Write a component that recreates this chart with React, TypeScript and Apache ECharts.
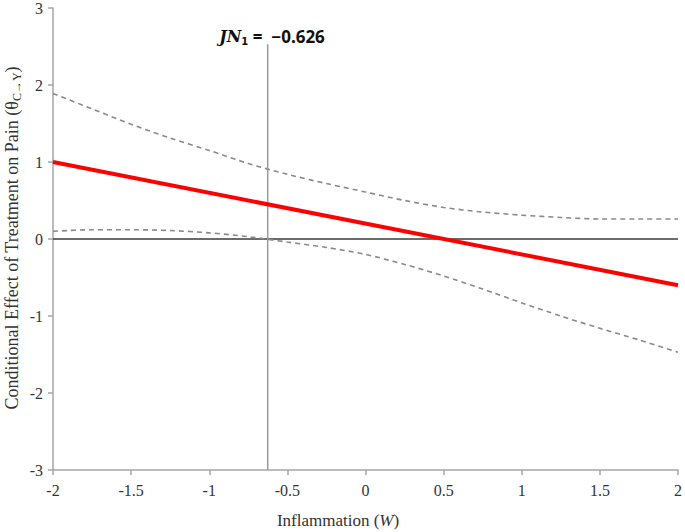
import React, { useEffect, useRef } from "react";
import * as echarts from "echarts";

// Moderator values (Inflammation, W)
const wValues = [-2, -1.75, -1.5, -1.25, -1, -0.75, -0.5, -0.25, 0, 0.25, 0.5, 0.75, 1, 1.25, 1.5, 1.75, 2];
// Upper and lower confidence bounds
const upperCI = [1.89, 1.69, 1.49, 1.31, 1.15, 0.98, 0.84, 0.72, 0.61, 0.5, 0.41, 0.35, 0.31, 0.28, 0.26, 0.26, 0.26];
const lowerCI = [0.1, 0.12, 0.12, 0.11, 0.08, 0.03, -0.04, -0.11, -0.2, -0.33, -0.48, -0.65, -0.83, -1.0, -1.16, -1.31, -1.47];
// Conditional effect line
const effectW = [-2, 2];
const effectValues = [1.0, -0.6];
// Johnson-Neyman point
const jnValue = -0.626;
const jnLineTop = 2.53;
const jnLineBottom = -3;
const zeroLineW = [-2, 2];

const serif = "'Liberation Serif', 'Times New Roman', serif";

export default function App() {
  const ref = useRef<HTMLDivElement>(null);

  useEffect(() => {
    document.body.style.margin = "0";
    if (!ref.current) return;
    const chart = echarts.init(ref.current, undefined, { renderer: "svg" });
    const gray = "#a6a6a6";
    chart.setOption({
      animation: false,
      backgroundColor: "#ffffff",
      grid: { left: 53, right: 4, top: 7, bottom: 62 },
      xAxis: {
        type: "value",
        min: -2,
        max: 2,
        interval: 0.5,
        axisLine: { onZero: false, lineStyle: { color: gray, width: 1.5 } },
        axisTick: { show: true, length: 5, lineStyle: { color: gray, width: 1.5 } },
        axisLabel: {
          color: "#333333",
          fontFamily: serif,
          fontSize: 16,
          margin: 12,
          formatter: (v: number) => String(v),
        },
        splitLine: { show: false },
      },
      yAxis: {
        type: "value",
        min: -3,
        max: 3,
        interval: 1,
        axisLine: { show: true, onZero: false, lineStyle: { color: gray, width: 1.5 } },
        axisTick: { show: true, length: 5, lineStyle: { color: gray, width: 1.5 } },
        axisLabel: {
          color: "#333333",
          fontFamily: serif,
          fontSize: 16,
          margin: 10,
          formatter: (v: number) => String(v),
        },
        splitLine: { show: false },
      },
      series: [
        {
          type: "line",
          data: zeroLineW.map((w) => [w, 0]),
          symbol: "none",
          lineStyle: { color: "#3a3a3a", width: 1.5 },
          z: 2,
        },
        {
          type: "line",
          data: wValues.map((w, i) => [w, upperCI[i]]),
          symbol: "none",
          smooth: 0.3,
          lineStyle: { color: "#8a8a8a", width: 1.6, type: [5, 4] },
          z: 3,
        },
        {
          type: "line",
          data: wValues.map((w, i) => [w, lowerCI[i]]),
          symbol: "none",
          smooth: 0.3,
          lineStyle: { color: "#8a8a8a", width: 1.6, type: [5, 4] },
          z: 3,
        },
        {
          type: "line",
          data: [
            [jnValue, jnLineBottom],
            [jnValue, jnLineTop],
          ],
          symbol: "none",
          lineStyle: { color: "#9a9a9a", width: 1.5 },
          z: 4,
        },
        {
          type: "line",
          data: effectW.map((w, i) => [w, effectValues[i]]),
          symbol: "none",
          lineStyle: { color: "#ff0000", width: 4 },
          z: 5,
        },
      ],
      graphic: [
        {
          type: "text",
          x: 12,
          y: 238,
          rotation: Math.PI / 2,
          style: {
            text: "Conditional Effect of Treatment on Pain (θ{sub|C→Y})",
            fontFamily: serif,
            fontSize: 18,
            fill: "#333333",
            align: "center",
            verticalAlign: "middle",
            lineHeight: 22,
            rich: {
              sub: {
                fontFamily: serif,
                fontSize: 12,
                lineHeight: 12,
                verticalAlign: "bottom",
                fill: "#333333",
              },
            },
          },
        },
        {
          type: "text",
          x: 338,
          y: 520,
          style: {
            text: "Inflammation ({i|W})",
            fontFamily: serif,
            fontSize: 17,
            fill: "#333333",
            align: "center",
            verticalAlign: "middle",
            rich: {
              i: {
                fontFamily: serif,
                fontSize: 17,
                fontStyle: "italic",
                fill: "#333333",
              },
            },
          },
        },
        {
          type: "text",
          x: 272,
          y: 36,
          style: {
            text: "{i|JN}{s|1}{n| =  −0.626}",
            fontSize: 16,
            fill: "#111111",
            align: "center",
            verticalAlign: "middle",
            lineHeight: 20,
            rich: {
              i: {
                fontFamily: "'DejaVu Serif', serif",
                fontStyle: "italic",
                fontWeight: "bold",
                fontSize: 16,
                lineHeight: 20,
                fill: "#111111",
              },
              s: {
                fontFamily: "'DejaVu Sans', sans-serif",
                fontWeight: "bold",
                fontSize: 10,
                lineHeight: 10,
                verticalAlign: "bottom",
                fill: "#111111",
              },
              n: {
                fontFamily: "'Noto Sans', sans-serif",
                fontWeight: "bold",
                fontSize: 17,
                lineHeight: 20,
                fill: "#111111",
              },
            },
          },
        },
      ],
    });
    return () => chart.dispose();
  }, []);

  return <div ref={ref} style={{ width: 685, height: 532 }} />;
}
